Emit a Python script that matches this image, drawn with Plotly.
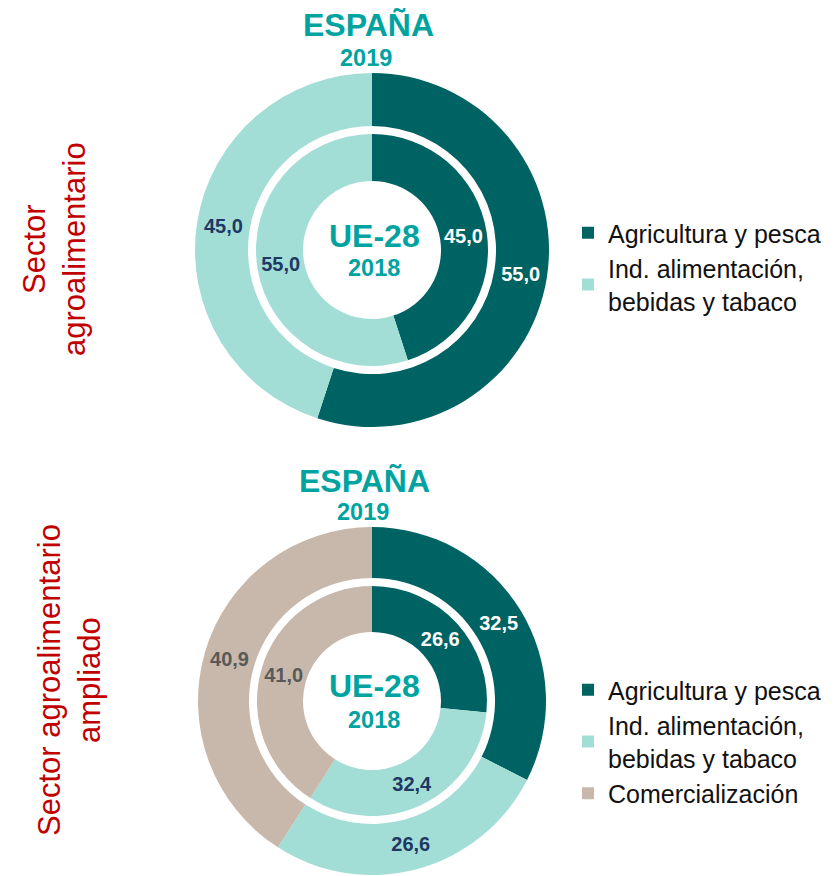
import plotly.graph_objects as go

# page body has an 8px margin: keep the figure inside the window
OFF = 8
W, H = 835 - OFF, 876 - OFF

# Data
labels_top = ["Agricultura y pesca", "Ind. alimentación,<br>bebidas y tabaco"]
espana_top = [55.0, 45.0]
ue_top = [45.0, 55.0]

labels_bot = ["Agricultura y pesca\u200b", "Ind. alimentación,<br>bebidas y tabaco\u200b", "Comercialización"]
espana_bot = [32.5, 26.6, 40.9]
ue_bot = [26.6, 32.4, 41.0]

colors = ["#006363", "#a3ded6", "#c7b8ab"]
text_colors = ["#ffffff", "#203864", "#595959"]
TEAL = "#00a3a0"
RED = "#c00000"
FONT = "Liberation Sans, Arial, sans-serif"


def px(x):
    return (x - OFF) / W


def py(y):
    return 1 - (y - OFF) / H


def dom(cx, cy, r):
    y0 = max(0, py(cy + r))
    y1 = min(1, py(cy - r))
    return dict(x=[px(cx - r), px(cx + r)], y=[y0, y1])


def ring(labels, values, cx, cy, r, hole, legend, showlegend):
    n = len(values)
    return go.Pie(
        labels=labels, values=values, sort=False, direction="clockwise", rotation=0,
        hole=hole, domain=dom(cx, cy, r),
        marker=dict(colors=colors[:n], line=dict(width=0)),
        texttemplate="%{value:.1f}", textposition="inside", insidetextorientation="horizontal",
        textfont=dict(family=FONT, size=20, color=text_colors[:n], weight="bold"),
        legend=legend, showlegend=showlegend, hoverinfo="label+value",
    )


fig = go.Figure()
fig.add_trace(ring(labels_top, espana_top, 372, 250, 177, 124 / 177, "legend", True))
fig.add_trace(ring(labels_top, ue_top, 372, 250, 116, 69 / 116, "legend", False))
fig.add_trace(ring(labels_bot, espana_bot, 372, 701, 174, 123 / 174, "legend2", True))
fig.add_trace(ring(labels_bot, ue_bot, 372, 701, 115, 69 / 115, "legend2", False))

ann = []


def txt(text, x, y, size, color=TEAL, bold=True, angle=0):
    ann.append(dict(text=f"<b>{text}</b>" if bold else text, x=px(x), y=py(y),
                    xref="paper", yref="paper", showarrow=False, textangle=angle,
                    font=dict(family=FONT, size=size, color=color),
                    xanchor="center", yanchor="middle"))


txt("ESPAÑA", 368, 25, 32)
txt("2019", 366, 58, 23.5)
txt("UE-28", 374, 236, 32)
txt("2018", 374, 268, 23.5)
txt("ESPAÑA", 364, 481, 32)
txt("2019", 363, 512, 23.5)
txt("UE-28", 374, 686, 32)
txt("2018", 374, 720, 23.5)
txt("Sector<br>agroalimentario", 54, 249, 31, RED, False, -90)
txt("Sector agroalimentario<br>ampliado", 69, 680, 31, RED, False, -90)

leg = dict(xanchor="left", yanchor="top",
           font=dict(family=FONT, size=25, color="#111111"),
           itemsizing="constant", tracegroupgap=0, bgcolor="rgba(0,0,0,0)")
fig.update_layout(
    width=W, height=H, margin=dict(l=0, r=0, t=0, b=0),
    paper_bgcolor="white", plot_bgcolor="white",
    separators=",.",
    annotations=ann,
    legend=dict(x=px(568), y=py(210), **leg),
    legend2=dict(x=px(568), y=py(667), **leg),
)

fig.write_html("out.html")
